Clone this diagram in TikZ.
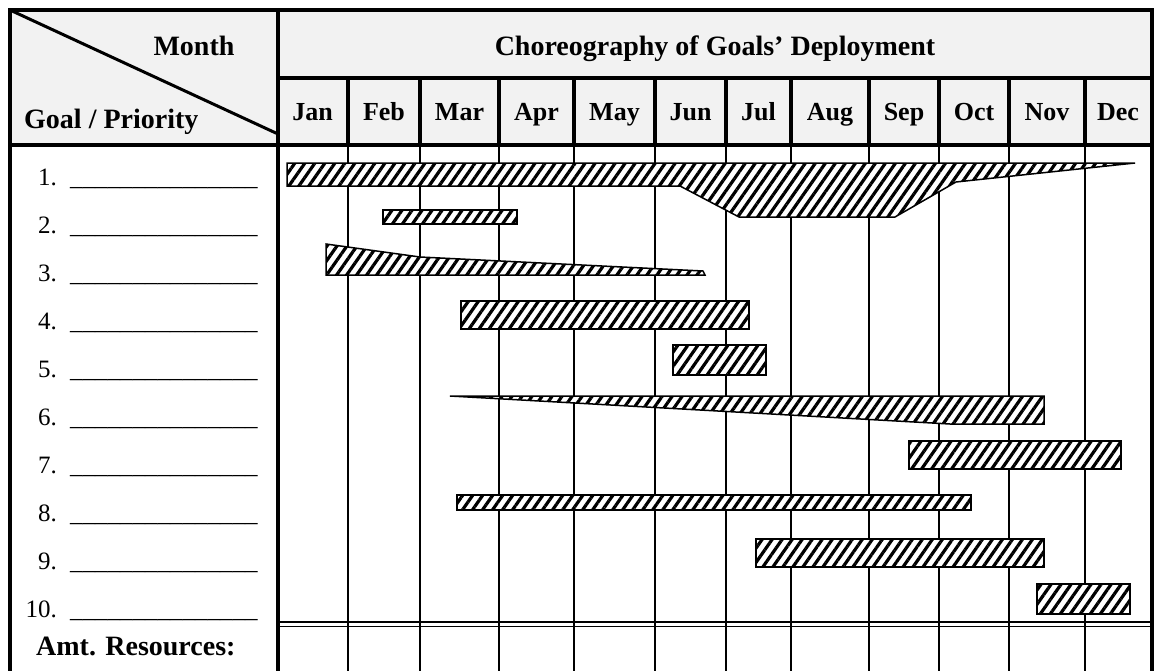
\documentclass[tikz,border=0pt]{standalone}
\usepackage{fontspec}
\setmainfont{Liberation Serif}
\usetikzlibrary{patterns.meta}

\begin{document}
\begin{tikzpicture}[x=1pt,y=-1pt,
  hdr/.style={font=\fontsize{28}{30}\selectfont\bfseries, inner sep=0pt, anchor=base},
  mon/.style={font=\fontsize{26}{28}\selectfont\bfseries, inner sep=0pt, anchor=base},
  num/.style={font=\fontsize{25}{27}\selectfont, inner sep=0pt, anchor=base east},
  blank/.style={font=\fontsize{25}{27}\selectfont, inner sep=0pt, anchor=base west},
  bar/.style={draw=black, line width=1.5pt, preaction={fill=white},
    pattern={Lines[angle=55,distance=8.2pt,line width=3.2pt]}}]
\useasboundingbox (0,0) rectangle (1163,670);
% header shading
\fill[black!5] (10,10) rectangle (1152,145);
% body grid
\draw[line width=2.7pt] (348,145) -- (348,672);
\draw[line width=2.7pt] (420,145) -- (420,672);
\draw[line width=2.7pt] (499,145) -- (499,672);
\draw[line width=2.7pt] (574,145) -- (574,672);
\draw[line width=2.7pt] (655,145) -- (655,672);
\draw[line width=2.7pt] (726,145) -- (726,672);
\draw[line width=2.7pt] (791,145) -- (791,672);
\draw[line width=2.7pt] (869,145) -- (869,672);
\draw[line width=2.7pt] (939,145) -- (939,672);
\draw[line width=2.7pt] (1009,145) -- (1009,672);
\draw[line width=2.7pt] (1085,145) -- (1085,672);
\draw[line width=1.5pt] (278,622) -- (1152,622);
\draw[line width=1.5pt] (278,626.5) -- (1152,626.5);
% header rules
\draw[line width=4pt] (348,78) -- (348,145);
\draw[line width=4pt] (420,78) -- (420,145);
\draw[line width=4pt] (499,78) -- (499,145);
\draw[line width=4pt] (574,78) -- (574,145);
\draw[line width=4pt] (655,78) -- (655,145);
\draw[line width=4pt] (726,78) -- (726,145);
\draw[line width=4pt] (791,78) -- (791,145);
\draw[line width=4pt] (869,78) -- (869,145);
\draw[line width=4pt] (939,78) -- (939,145);
\draw[line width=4pt] (1009,78) -- (1009,145);
\draw[line width=4pt] (1085,78) -- (1085,145);
\draw[line width=4pt] (278,78) -- (1152,78);
\draw[line width=4pt] (10,145) -- (1152,145);
\draw[line width=4pt] (278,10) -- (278,672);
\draw[line width=3pt] (10,10) -- (278,134);
% frame
\draw[line width=4pt] (10,672) -- (10,10) -- (1152,10) -- (1152,672);
% header texts
\node[hdr] (month) at (194,55) {Month};
\node[hdr, anchor=base west] (goal) at (24,128) {Goal / Priority};
\node[hdr] (title) at (715,55) {Choreography of Goals’ Deployment};
\node[mon] (jan) at (312.5,120) {Jan};
\node[mon] (feb) at (384,120) {Feb};
\node[mon] (mar) at (459.5,120) {Mar};
\node[mon] (apr) at (536.5,120) {Apr};
\node[mon] (may) at (614.5,120) {May};
\node[mon] (jun) at (690.5,120) {Jun};
\node[mon] (jul) at (758.5,120) {Jul};
\node[mon] (aug) at (830,120) {Aug};
\node[mon] (sep) at (904,120) {Sep};
\node[mon] (oct) at (974,120) {Oct};
\node[mon] (nov) at (1047,120) {Nov};
\node[mon] (dec) at (1118,120) {Dec};
% goal rows
\node[num] (n1) at (57,185) {1.};
\node[blank] (l1) at (70,185) {\_\_\_\_\_\_\_\_\_\_\_\_\_\_\_};
\node[num] (n2) at (57,233) {2.};
\node[blank] (l2) at (70,233) {\_\_\_\_\_\_\_\_\_\_\_\_\_\_\_};
\node[num] (n3) at (57,281) {3.};
\node[blank] (l3) at (70,281) {\_\_\_\_\_\_\_\_\_\_\_\_\_\_\_};
\node[num] (n4) at (57,329) {4.};
\node[blank] (l4) at (70,329) {\_\_\_\_\_\_\_\_\_\_\_\_\_\_\_};
\node[num] (n5) at (57,377) {5.};
\node[blank] (l5) at (70,377) {\_\_\_\_\_\_\_\_\_\_\_\_\_\_\_};
\node[num] (n6) at (57,425) {6.};
\node[blank] (l6) at (70,425) {\_\_\_\_\_\_\_\_\_\_\_\_\_\_\_};
\node[num] (n7) at (57,473) {7.};
\node[blank] (l7) at (70,473) {\_\_\_\_\_\_\_\_\_\_\_\_\_\_\_};
\node[num] (n8) at (57,521) {8.};
\node[blank] (l8) at (70,521) {\_\_\_\_\_\_\_\_\_\_\_\_\_\_\_};
\node[num] (n9) at (57,569) {9.};
\node[blank] (l9) at (70,569) {\_\_\_\_\_\_\_\_\_\_\_\_\_\_\_};
\node[num] (n10) at (57,617) {10.};
\node[blank] (l10) at (70,617) {\_\_\_\_\_\_\_\_\_\_\_\_\_\_\_};
\node[hdr, anchor=base west] (amt) at (36,655) {Amt. Resources:};
% bars
\draw[bar] (287,163) -- (1135,163) -- (956,182) -- (895,217) -- (739,217) -- (680,186) -- (287,186) -- cycle;
\draw[bar] (383,210) rectangle (517,224);
\draw[bar] (326,244) -- (420,257) -- (703,271) -- (705,275) -- (326,275) -- cycle;
\draw[bar] (461,301) rectangle (749,329);
\draw[bar] (673,345) rectangle (766,375);
\draw[bar] (450,396) -- (1044,396) -- (1044,424) -- (950,424) -- cycle;
\draw[bar] (909,441) rectangle (1121,469);
\draw[bar] (457,495) rectangle (971,510);
\draw[bar] (756,539) rectangle (1044,567);
\draw[bar] (1037,584) rectangle (1130,614);
\end{tikzpicture}
\end{document}
